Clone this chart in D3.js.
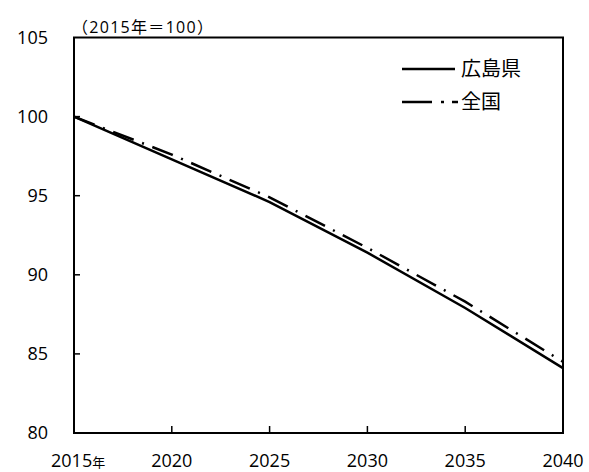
<!DOCTYPE html>
<html>
<head>
<meta charset="utf-8">
<script src="https://cdn.jsdelivr.net/npm/d3@7"></script>
<style>
  body { margin: 0; background: #fff; }
  text { font-family: "Open Sans", "Noto Sans CJK JP", sans-serif; fill: #000; }
</style>
</head>
<body>
<svg></svg>
<script>
const years = [2015, 2020, 2025, 2030, 2035, 2040]
const hiroshima = [100, 97.3, 94.6, 91.4, 87.9, 84.1]
const zenkoku = [100, 97.6, 94.9, 91.7, 88.3, 84.5]
const yTicks = [80, 85, 90, 95, 100, 105]
const seriesNames = ['広島県', '全国']

const W = 589, H = 472
const pd = { top: 37.5, left: 74, right: 26, bottom: 39 }
const width = W - pd.left - pd.right
const height = H - pd.top - pd.bottom

const svg = d3.select('svg').attr('width', W).attr('height', H)

const x = d3.scaleLinear().domain([2015, 2040]).range([0, width])
const y = d3.scaleLinear().domain([80, 105]).range([height, 0])

const g = svg.append('g').attr('transform', `translate(${pd.left}, ${pd.top})`)

// frame
g.append('rect')
  .attr('width', width).attr('height', height)
  .attr('fill', 'none').attr('stroke', '#000').attr('stroke-width', 2)

// y ticks (inside)
g.selectAll('line.yt')
  .data(yTicks.slice(1, -1))
  .enter().append('line')
  .attr('x1', 0).attr('x2', 6)
  .attr('y1', d => y(d)).attr('y2', d => y(d))
  .attr('stroke', '#000').attr('stroke-width', 1.5)

svg.selectAll('text.yl')
  .data(yTicks)
  .enter().append('text')
  .attr('x', 48).attr('y', d => pd.top + y(d) + 6)
  .attr('text-anchor', 'end')
  .attr('font-size', 18)
  .text(d => d)

// x ticks (inside)
g.selectAll('line.xt')
  .data(years.slice(1, -1))
  .enter().append('line')
  .attr('x1', d => x(d)).attr('x2', d => x(d))
  .attr('y1', height).attr('y2', height - 7)
  .attr('stroke', '#000').attr('stroke-width', 1.5)

const xl = svg.selectAll('text.xl')
  .data(years)
  .enter().append('text')
  .attr('x', d => pd.left + x(d))
  .attr('y', 467)
  .attr('text-anchor', 'middle')
  .attr('font-size', 18)
xl.filter(d => d !== 2015).text(d => d)
xl.filter(d => d === 2015)
  .attr('x', 51).attr('text-anchor', 'start')
  .call(t => {
    t.append('tspan').text(d => d)
    t.append('tspan').attr('font-size', 13).text('年')
  })

// unit label
svg.append('text')
  .attr('x', 72).attr('y', 33)
  .attr('font-size', 16)
  .attr('font-family', '"Noto Sans CJK JP", sans-serif')
  .attr('textLength', 141)
  .attr('lengthAdjust', 'spacing')
  .text('（2015年＝100）')

const line = d3.line().x((d, i) => x(years[i])).y(d => y(d))

g.append('path').datum(zenkoku)
  .attr('d', line)
  .attr('fill', 'none').attr('stroke', '#000').attr('stroke-width', 2.5)
  .attr('stroke-dasharray', '22,9,2,9')

g.append('path').datum(hiroshima)
  .attr('d', line)
  .attr('fill', 'none').attr('stroke', '#000').attr('stroke-width', 2.5)

// legend
const lg = svg.append('g')
const dashes = [null, '30,9,3,8,12']
seriesNames.forEach((n, i) => {
  const ly = 69 + i * 33
  lg.append('line')
    .attr('x1', 402).attr('x2', i ? 458 : 455)
    .attr('y1', ly).attr('y2', ly)
    .attr('stroke', '#000').attr('stroke-width', 2.5)
    .attr('stroke-dasharray', dashes[i])
  lg.append('text')
    .attr('x', 461).attr('y', ly + 7)
    .attr('font-size', 20)
    .attr('font-family', '"Noto Sans CJK JP", sans-serif')
    .text(n)
})
</script>
</body>
</html>
